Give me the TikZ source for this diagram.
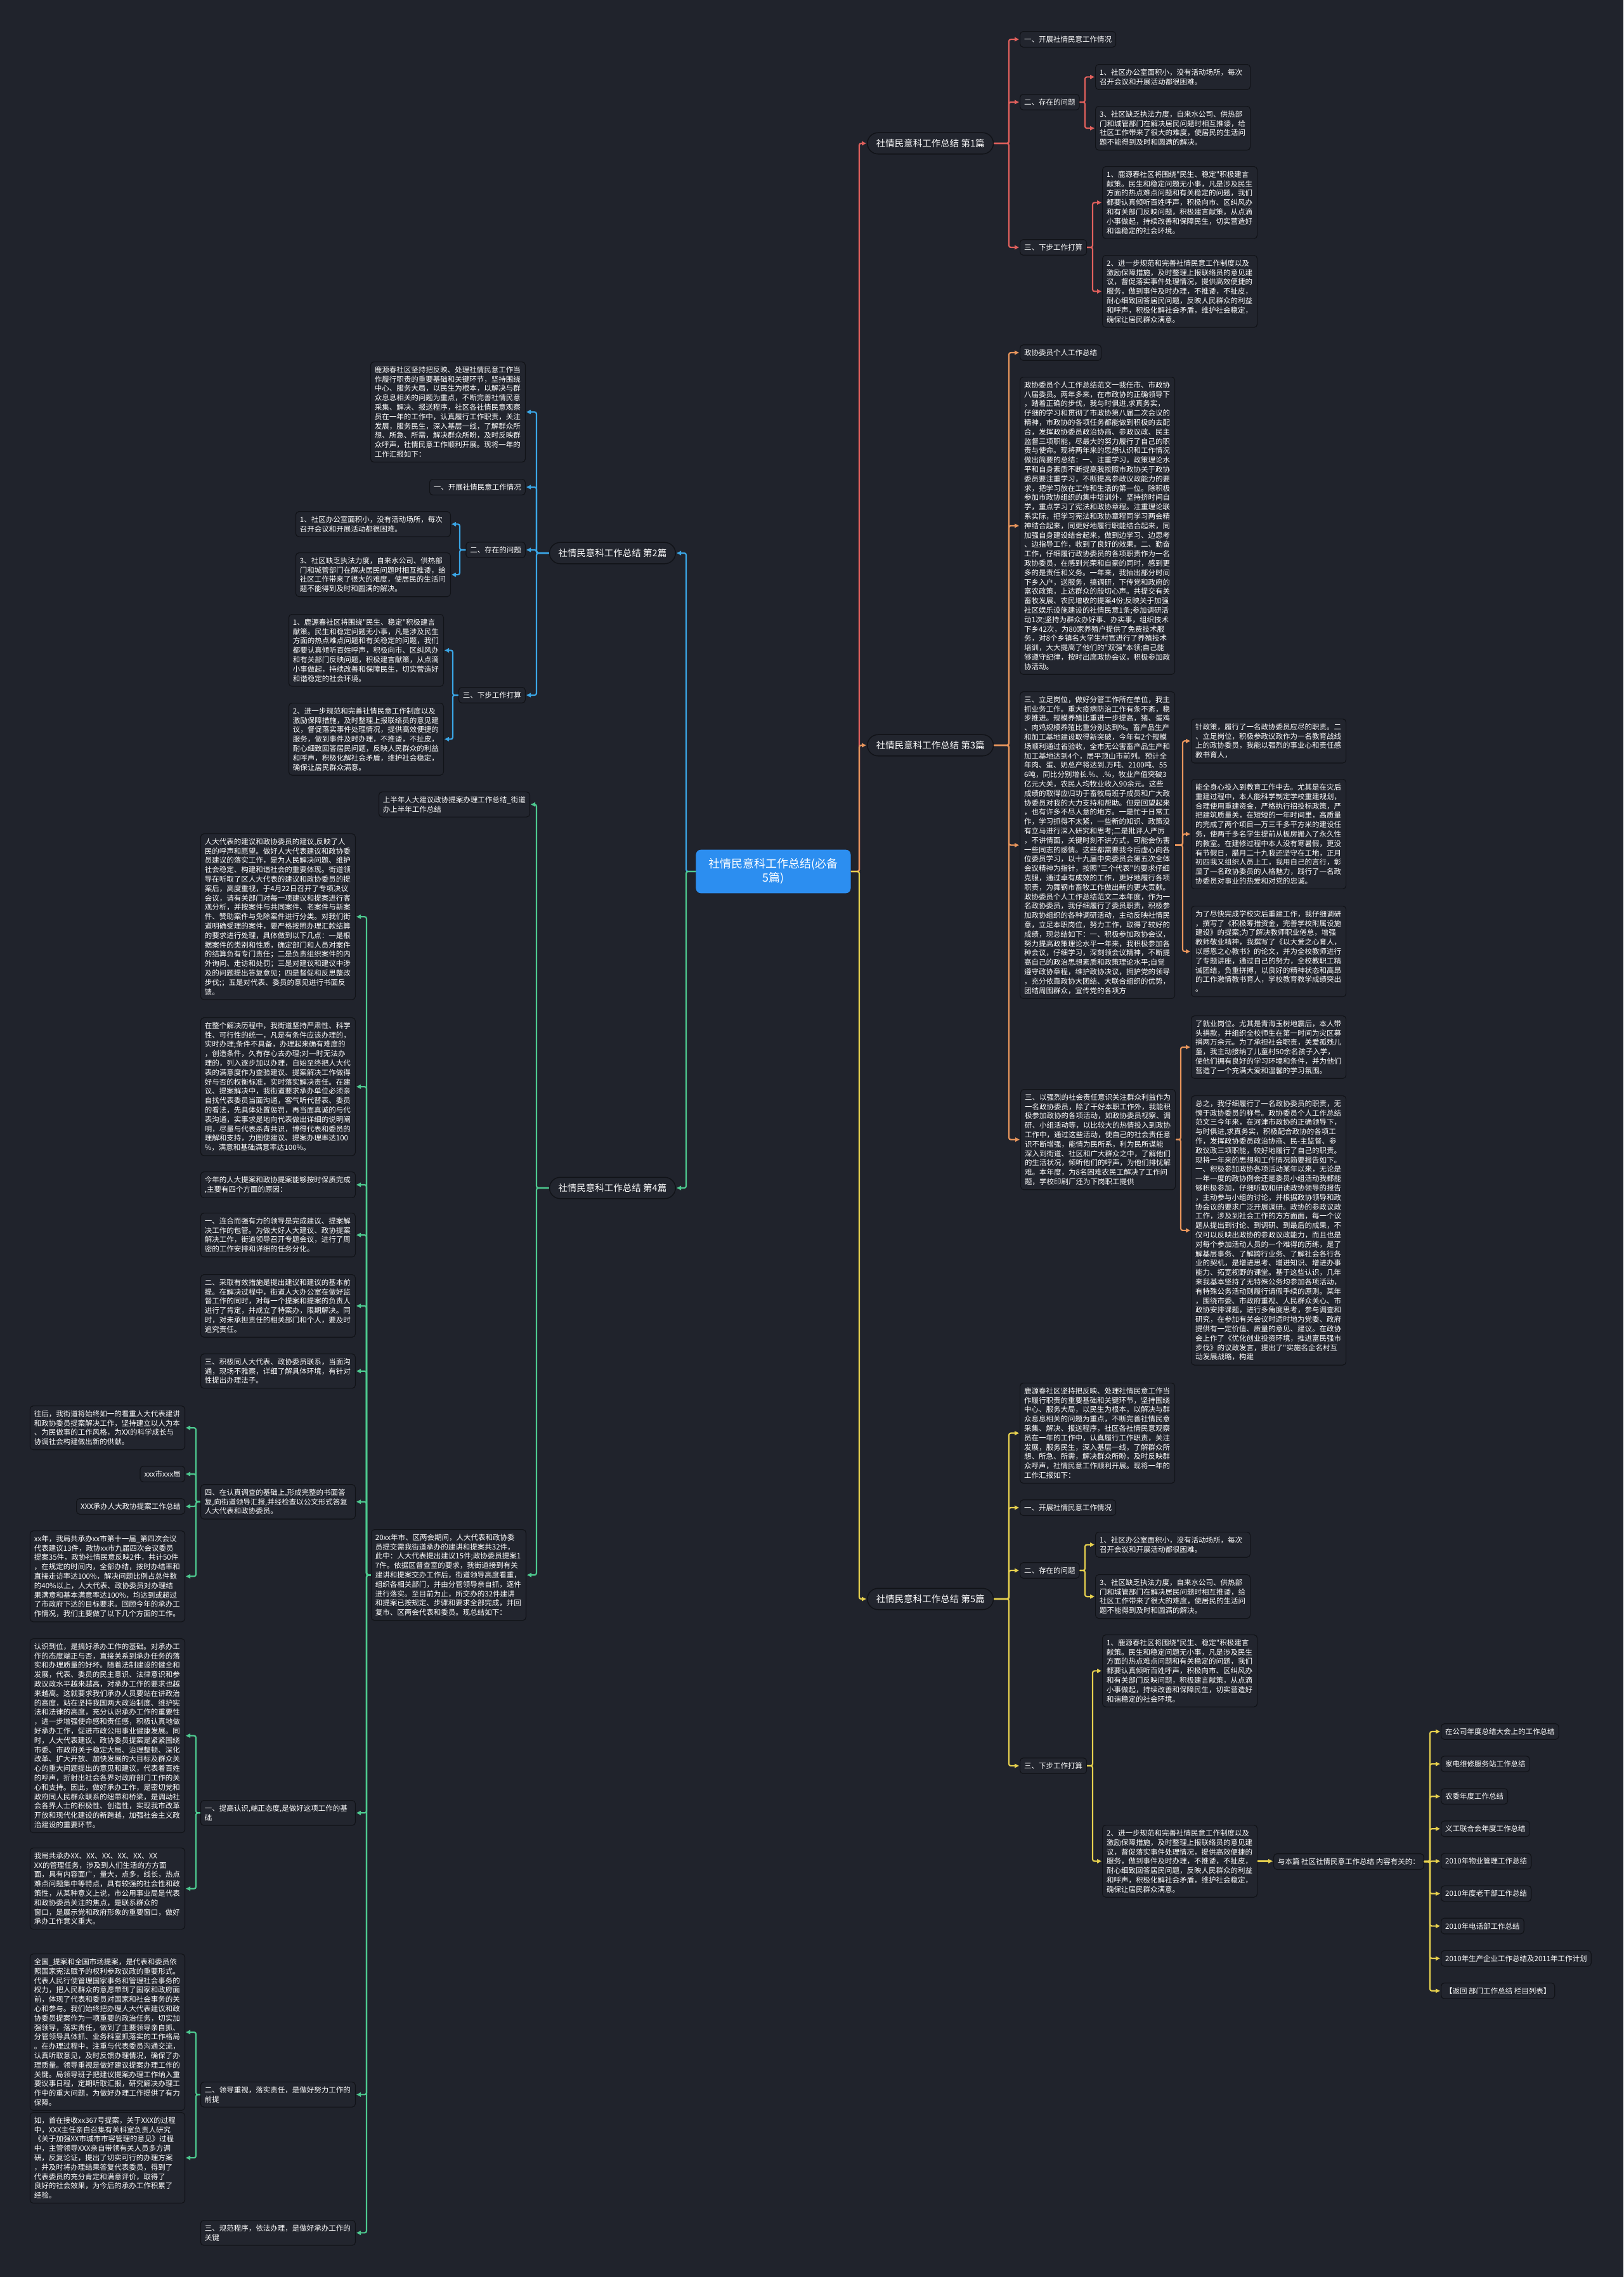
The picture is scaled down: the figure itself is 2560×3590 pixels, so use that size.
\documentclass[tikz,border=0pt]{standalone}
\usepackage{fontspec}
\usetikzlibrary{arrows.meta,calc}
\newfontfamily\cjk{Noto Sans CJK SC}
\definecolor{bg}{HTML}{20232C}
\definecolor{boxfill}{HTML}{22252E}
\definecolor{boxline}{HTML}{111318}
\definecolor{cred}{HTML}{E0605C}
\definecolor{cblue}{HTML}{3AA6E6}
\definecolor{corange}{HTML}{E8955C}
\definecolor{cgreen}{HTML}{4DC98F}
\definecolor{cyellow}{HTML}{E6D04E}
\definecolor{cctr}{HTML}{2C8EF0}
\newcommand\txtIntro{鹿源春社区坚持把反映、处理社情民意工作当\\作履行职责的重要基础和关键环节，坚持围绕\\中心、服务大局，以民生为根本，以解决与群\\众息息相关的问题为重点，不断完善社情民意\\采集、解决、报送程序，社区各社情民意观察\\员在一年的工作中，认真履行工作职责，关注\\发展，服务民生，深入基层一线，了解群众所\\想、所急、所需，解决群众所盼，及时反映群\\众呼声，社情民意工作顺利开展。现将一年的\\工作汇报如下：}
\newcommand\txtPa{1、社区办公室面积小，没有活动场所，每次\\召开会议和开展活动都很困难。}
\newcommand\txtPb{3、社区缺乏执法力度，自来水公司、供热部\\门和城管部门在解决居民问题时相互推诿，给\\社区工作带来了很大的难度，使居民的生活问\\题不能得到及时和圆满的解决。}
\newcommand\txtQa{1、鹿源春社区将围绕"民生、稳定"积极建言\\献策。民生和稳定问题无小事，凡是涉及民生\\方面的热点难点问题和有关稳定的问题，我们\\都要认真倾听百姓呼声，积极向市、区纠风办\\和有关部门反映问题，积极建言献策，从点滴\\小事做起，持续改善和保障民生，切实营造好\\和谐稳定的社会环境。}
\newcommand\txtQb{2、进一步规范和完善社情民意工作制度以及\\激励保障措施，及时整理上报联络员的意见建\\议，督促落实事件处理情况，提供高效便捷的\\服务，做到事件及时办理，不推诿，不扯皮，\\耐心细致回答居民问题，反映人民群众的利益\\和呼声，积极化解社会矛盾，维护社会稳定，\\确保让居民群众满意。}
\begin{document}
\begin{tikzpicture}[x=1pt,y=-1pt,
  box/.style={draw=boxline, fill=boxfill, line width=1.2pt, rounded corners=5pt, inner xsep=6.5pt, inner ysep=7pt, text=white, font=\cjk\fontsize{11.5}{14.8}\selectfont, align=left},
  para/.style={box, text width=231pt},
  lbl/.style={box, anchor=west},
  lblr/.style={box, anchor=east},
  branch/.style={draw=boxline, fill=boxfill, line width=1.5pt, rounded corners=17pt, inner xsep=14pt, inner ysep=10pt, text=white, font=\cjk\fontsize{14.5}{17}\selectfont},
  ctrbox/.style={fill=cctr, rounded corners=8pt, inner xsep=20pt, inner ysep=14pt, text=white, font=\cjk\fontsize{18}{22}\selectfont, align=center},
  ln/.style={line width=2.2pt, rounded corners=3pt, -{Triangle[length=7pt,width=6.5pt]}, shorten >=1pt}]
\fill[bg] (0,0) rectangle (2560,3590);
\useasboundingbox (0,0) rectangle (2560,3590);

% centre
\node[ctrbox] (ctr) at (1219.5,1374) {社情民意科工作总结(必备\\5篇)};
\coordinate (tcr) at (1355,0);
\coordinate (tcl) at (1082,0);

% ---------------- branch 1
\node[branch, anchor=west] (b1) at (1367,226) {社情民意科工作总结 第1篇};
\coordinate (t1) at (1591,0);
\node[lbl] (b1a) at (1608,62) {一、开展社情民意工作情况};
\node[lbl] (b1b) at (1608,161) {二、存在的问题};
\node[para, anchor=north west] (b1b1) at (1727,101) {\txtPa};
\node[para, anchor=north west] (b1b2) at (1727,167) {\txtPb};
\node[lbl] (b1c) at (1608,390) {三、下步工作打算};
\node[para, anchor=north west] (b1c1) at (1738,262) {\txtQa};
\node[para, anchor=north west] (b1c2) at (1738,402) {\txtQb};
\coordinate (s1b) at (1711,0);
\coordinate (s1c) at (1723,0);
\draw[ln,cred] (ctr.east) -- (ctr.east -| tcr) |- (b1.west);
\foreach \c in {b1a,b1b,b1c} \draw[ln,cred] (b1.east) -- (b1.east -| t1) |- (\c.west);
\foreach \c in {b1b1,b1b2} \draw[ln,cred] (b1b.east) -- (b1b.east -| s1b) |- (\c.west);
\foreach \c in {b1c1,b1c2} \draw[ln,cred] (b1c.east) -- (b1c.east -| s1c) |- (\c.west);

% ---------------- branch 2
\node[branch, anchor=east] (b2) at (1066,872) {社情民意科工作总结 第2篇};
\coordinate (t2) at (846,0);
\node[para, anchor=north east] (b2i) at (829,570) {\txtIntro};
\node[lblr] (b2a) at (829,768) {一、开展社情民意工作情况};
\node[lblr] (b2b) at (829,867) {二、存在的问题};
\node[para, anchor=north east] (b2b1) at (711,806) {\txtPa};
\node[para, anchor=north east] (b2b2) at (711,871) {\txtPb};
\node[lblr] (b2c) at (829,1096) {三、下步工作打算};
\node[para, anchor=north east] (b2c1) at (700,968) {\txtQa};
\node[para, anchor=north east] (b2c2) at (700,1108) {\txtQb};
\coordinate (s2b) at (725,0);
\coordinate (s2c) at (714,0);
\draw[ln,cblue] (ctr.west) -- (ctr.west -| tcl) |- (b2.east);
\foreach \c in {b2i,b2a,b2b,b2c} \draw[ln,cblue] (b2.west) -- (b2.west -| t2) |- (\c.east);
\foreach \c in {b2b1,b2b2} \draw[ln,cblue] (b2b.west) -- (b2b.west -| s2b) |- (\c.east);
\foreach \c in {b2c1,b2c2} \draw[ln,cblue] (b2c.west) -- (b2c.west -| s2c) |- (\c.east);

% ---------------- branch 3
\node[branch, anchor=west] (b3) at (1367,1175) {社情民意科工作总结 第3篇};
\coordinate (t3) at (1591,0);
\node[lbl] (b3a) at (1608,556) {政协委员个人工作总结};
\node[para, anchor=north west] (b3b) at (1608,594) {政协委员个人工作总结范文一我任市、市政协\\八届委员。两年多来，在市政协的正确领导下\\，踏着正确的步伐，我与时俱进,求真务实，\\仔细的学习和贯彻了市政协第八届二次会议的\\精神，市政协的各项任务都能做到积极的去配\\合，发挥政协委员政治协商、参政议政、民主\\监督三项职能，尽最大的努力履行了自己的职\\责与使命。现将两年来的思想认识和工作情况\\做出简要的总结：一、注重学习，政策理论水\\平和自身素质不断提高我按照市政协关于政协\\委员要注重学习，不断提高参政议政能力的要\\求，把学习放在工作和生活的第一位。除积极\\参加市政协组织的集中培训外，坚持挤时间自\\学，重点学习了宪法和政协章程。注重理论联\\系实际，把学习宪法和政协章程同学习两会精\\神结合起来，同更好地履行职能结合起来，同\\加强自身建设结合起来，做到边学习、边思考\\、边指导工作，收到了良好的效果。二、勤奋\\工作，仔细履行政协委员的各项职责作为一名\\政协委员，在感到光荣和自豪的同时，感到更\\多的是责任和义务。一年来，我抽出部分时间\\下乡入户，送服务，搞调研，下传党和政府的\\富农政策，上达群众的殷切心声。共提交有关\\畜牧发展、农民增收的提案4份;反映关于加强\\社区娱乐设施建设的社情民意1条;参加调研活\\动1次;坚持为群众办好事、办实事，组织技术\\下乡42次，为80家养殖户提供了免费技术服\\务，对8个乡镇名大学生村官进行了养殖技术\\培训，大大提高了他们的"双强"本领;自己能\\够遵守纪律，按时出席政协会议，积极参加政\\协活动。};
\node[para, anchor=north west] (b3c) at (1608,1090) {三、立足岗位，做好分管工作所在单位，我主\\抓业务工作。重大疫病防治工作有条不紊，稳\\步推进。规模养殖比重进一步提高，猪、蛋鸡\\、肉鸡规模养殖比重分别达到\%。畜产品生产\\和加工基地建设取得新突破，今年有2个规模\\场顺利通过省验收，全市无公害畜产品生产和\\加工基地达到4个，居平顶山市前列。预计全\\年肉、蛋、奶总产将达到.万吨、2100吨、55\\6吨，同比分别增长.\%、.\%，牧业产值突破3\\亿元大关，农民人均牧业收入90余元。这些\\成绩的取得应归功于畜牧局班子成员和广大政\\协委员对我的大力支持和帮助。但是回望起来\\，也有许多不尽人意的地方。一是忙于日常工\\作，学习抓得不太紧，一些新的知识、政策没\\有立马进行深入研究和思考;二是批评人严厉\\，不讲情面，关键时刻不讲方式，可能会伤害\\一些同志的感情。这些都需要我今后虚心向各\\位委员学习，以十九届中央委员会第五次全体\\会议精神为指针，按照"三个代表"的要求仔细\\克服，通过卓有成效的工作，更好地履行各项\\职责，为舞钢市畜牧工作做出新的更大贡献。\\政协委员个人工作总结范文二本年度，作为一\\名政协委员，我仔细履行了委员职责，积极参\\加政协组织的各种调研活动，主动反映社情民\\意，立足本职岗位，努力工作，取得了较好的\\成绩，现总结如下：一、积极参加政协会议，\\努力提高政策理论水平一年来，我积极参加各\\种会议，仔细学习，深刻领会议精神，不断提\\高自己的政治思想素质和政策理论水平;自觉\\遵守政协章程，维护政协决议，拥护党的领导\\，充分依靠政协大团结、大联合组织的优势，\\团结周围群众，宣传党的各项方};
\node[para, anchor=north west] (b3c1) at (1878,1133) {针政策，履行了一名政协委员应尽的职责。二\\、立足岗位，积极参政议政作为一名教育战线\\上的政协委员，我能以强烈的事业心和责任感\\教书育人，};
\node[para, anchor=north west] (b3c2) at (1878,1228) {能全身心投入到教育工作中去。尤其是在灾后\\重建过程中，本人能科学制定学校重建规划，\\合理使用重建资金，严格执行招投标政策，严\\把建筑质量关，在短短的一年时间里，高质量\\的完成了两个项目一万三千多平方米的建设任\\务，使两千多名学生提前从板房搬入了永久性\\的教室。在建修过程中本人没有寒暑假，更没\\有节假日，腊月二十九我还坚守在工地，正月\\初四我又组织人员上工，我用自己的言行，彰\\显了一名政协委员的人格魅力，践行了一名政\\协委员对事业的热爱和对党的忠诚。};
\node[para, anchor=north west] (b3c3) at (1878,1428) {为了尽快完成学校灾后重建工作，我仔细调研\\，撰写了《积极筹措资金，完善学校附属设施\\建设》的提案;为了解决教师职业倦怠，增强\\教师敬业精神，我撰写了《以大爱之心育人，\\以感恩之心教书》的论文，并为全校教师进行\\了专题讲座，通过自己的努力，全校教职工精\\诚团结，负重拼搏，以良好的精神状态和高昂\\的工作激情教书育人，学校教育教学成绩突出\\。};
\node[para, anchor=north west] (b3d) at (1609,1717) {三、以强烈的社会责任意识关注群众利益作为\\一名政协委员，除了干好本职工作外，我能积\\极参加政协的各项活动，如政协委员视察、调\\研、小组活动等，以比较大的热情投入到政协\\工作中，通过这些活动，使自己的社会责任意\\识不断增强，能情为民所系，利为民所谋能\\深入到街道、社区和广大群众之中，了解他们\\的生活状况，倾听他们的呼声，为他们排忧解\\难。本年度，为8名困难农民工解决了工作问\\题，学校印刷厂还为下岗职工提供};
\node[para, anchor=north west] (b3d1) at (1878,1601) {了就业岗位。尤其是青海玉树地震后，本人带\\头捐款，并组织全校师生在第一时间为灾区募\\捐两万余元。为了承担社会职责，关爱孤残儿\\童，我主动接纳了儿童村50余名孩子入学，\\使他们拥有良好的学习环境和条件，并为他们\\营造了一个充满大爱和温馨的学习氛围。};
\node[para, anchor=north west] (b3d2) at (1878,1727) {总之，我仔细履行了一名政协委员的职责，无\\愧于政协委员的称号。政协委员个人工作总结\\范文三今年来，在河津市政协的正确领导下，\\与时俱进,求真务实，积极配合政协的各项工\\作，发挥政协委员政治协商、民-主监督、参\\政议政三项职能，较好地履行了自己的职责。\\现将一年来的思想和工作情况简要报告如下。\\一、积极参加政协各项活动某年以来，无论是\\一年一度的政协例会还是委员小组活动我都能\\够积极参加，仔细听取和研读政协领导的报告\\，主动参与小组的讨论，并根据政协领导和政\\协会议的要求广泛开展调研。政协的参政议政\\工作，涉及到社会工作的方方面面，每一个议\\题从提出到讨论、到调研、到最后的成果，不\\仅可以反映出政协的参政议政能力，而且也是\\对每个参加活动人员的一个难得的历练，是了\\解基层事务、了解跨行业务、了解社会各行各\\业的契机，是增进思考、增进知识、增进办事\\能力、拓宽视野的课堂。基于这些认识，几年\\来我基本坚持了无特殊公务均参加各项活动，\\有特殊公务活动则履行请假手续的原则。某年\\，围绕市委、市政府重视、人民群众关心、市\\政协安排课题，进行多角度思考，参与调查和\\研究，在参加有关会议时适时地为党委、政府\\提供有一定价值、质量的意见、建议。在政协\\会上作了《优化创业投资环境，推进富民强市\\步伐》的议政发言，提出了"实施名企名村互\\动发展战略，构建};
\coordinate (s3c) at (1865,0);
\coordinate (s3d) at (1862,0);
\draw[ln,corange] (ctr.east) -- (ctr.east -| tcr) |- (b3.west);
\foreach \c in {b3a,b3b,b3c,b3d} \draw[ln,corange] (b3.east) -- (b3.east -| t3) |- (\c.west);
\foreach \c in {b3c1,b3c2,b3c3} \draw[ln,corange] (b3c.east) -- (b3c.east -| s3c) |- (\c.west);
\foreach \c in {b3d1,b3d2} \draw[ln,corange] (b3d.east) -- (b3d.east -| s3d) |- (\c.west);

% ---------------- branch 4
\node[branch, anchor=east] (b4) at (1066,1873) {社情民意科工作总结 第4篇};
\coordinate (t4) at (846,0);
\coordinate (t4b) at (578,0);
\coordinate (t4c) at (309,0);
\node[box, anchor=north east] (b4a) at (836,1248) {上半年人大建议政协提案办理工作总结\_街道\\办上半年工作总结};
\node[para, anchor=north east] (b4b) at (830,2411) {20xx年市、区两会期间，人大代表和政协委\\员提交需我街道承办的建讲和提案共32件，\\此中：人大代表提出建议15件;政协委员提案1\\7件。依据区督查室的要求，我街道接到有关\\建讲和提案交办工作后，街道领导高度看重，\\组织各相关部门，并由分管领导亲自抓，逐件\\进行落实。至目前为止，所交办的32件建讲\\和提案已按规定、步骤和要求全部完成，并回\\复市、区两会代表和委员。现总结如下：};
\node[para, anchor=north east] (c1) at (561,1314) {人大代表的建议和政协委员的建议,反映了人\\民的呼声和愿望。做好人大代表建议和政协委\\员建议的落实工作，是为人民解决问题、维护\\社会稳定、构建和谐社会的重要体现。街道领\\导在听取了区人大代表的建议和政协委员的提\\案后，高度重视，于4月22日召开了专项决议\\会议，请有关部门对每一项建议和提案进行客\\观分析，并按案件与共同案件、老案件与新案\\件、赞助案件与免除案件进行分类。对我们街\\道明确受理的案件，要严格按照办理汇款结算\\的要求进行处理，具体做到以下几点：一是根\\据案件的类别和性质，确定部门和人员对案件\\的结算负有专门责任；二是负责组织案件的内\\外询问、走访和处罚；三是对建议和建议中涉\\及的问题提出答复意见；四是督促和反思整改\\步伐;；五是对代表、委员的意见进行书面反\\馈。};
\node[para, anchor=north east] (c2) at (561,1604) {在整个解决历程中，我街道坚持严肃性、科学\\性、可行性的统一，凡是有条件应该办理的，\\实时办理;条件不具备，办理起来确有难度的\\，创造条件，久有存心去办理;对一时无法办\\理的，列入逐步加以办理，自始至终把人大代\\表的满意度作为查验建议、提案解决工作做得\\好与否的权衡标准，实时落实解决责任。在建\\议、提案解决中，我街道要求承办单位必须亲\\自找代表委员当面沟通，客气听代替表、委员\\的看法，先具体处置惩罚，再当面真诚的与代\\表沟通，实事求是地向代表做出详细的说明阐\\明，尽量与代表杀青共识，博得代表和委员的\\理解和支持，力图使建议、提案办理率达100\\\%，满意和基础满意率达100\%。};
\node[para, anchor=north east] (c3) at (561,1847) {今年的人大提案和政协提案能够按时保质完成\\,主要有四个方面的原因：};
\node[para, anchor=north east] (c4) at (561,1912) {一、连合而强有力的领导是完成建议、提案解\\决工作的包管。为做大好人大建议、政协提案\\解决工作，街道领导召开专题会议，进行了周\\密的工作安排和详细的任务分化。};
\node[para, anchor=north east] (c5) at (561,2009) {二、采取有效措施是提出建议和建议的基本前\\提。在解决过程中，街道人大办公室在做好监\\督工作的同时，对每一个提案和提案的负责人\\进行了肯定，并成立了特案办，限期解决。同\\时，对未承担责任的相关部门和个人，要及时\\追究责任。};
\node[para, anchor=north east] (c6) at (561,2134) {三、积极同人大代表、政协委员联系，当面沟\\通，现场不雅察，详细了解具体环境，有针对\\性提出办理法子。};
\node[para, anchor=north east] (c7) at (561,2340) {四、在认真调查的基础上,形成完整的书面答\\复,向街道领导汇报,并经检查以公文形式答复\\人大代表和政协委员。};
\node[para, anchor=north east] (c8) at (561,2838) {一、提高认识,端正态度,是做好这项工作的基\\础};
\node[para, anchor=north east] (c9) at (561,3282) {二、领导重视，落实责任，是做好努力工作的\\前提};
\node[para, anchor=north east] (c10) at (561,3500) {三、规范程序，依法办理，是做好承办工作的\\关键};
% far left
\node[para, anchor=north east] (d1) at (292,2216) {往后，我街道将始终如一的看重人大代表建讲\\和政协委员提案解决工作，坚持建立以人为本\\、为民做事的工作风格，为XX的科学成长与\\协调社会构建做出新的供献。};
\node[lblr] (d2) at (292,2324) {xxx市xxx局};
\node[lblr] (d3) at (292,2375) {XXX承办人大政协提案工作总结};
\node[para, anchor=north east] (d4) at (292,2413) {xx年，我局共承办xx市第十一届\_第四次会议\\代表建议13件，政协xx市九届四次会议委员\\提案35件，政协社情民意反映2件，共计50件\\，在规定的时间内，全部办结，按时办结率和\\直接走访率达100\%，解决问题比例占总件数\\的40\%以上，人大代表、政协委员对办理结\\果满意和基本满意率达100\%，均达到或超过\\了市政府下达的目标要求。回顾今年的承办工\\作情况，我们主要做了以下几个方面的工作。};
\node[para, anchor=north east] (e1) at (292,2583) {认识到位，是搞好承办工作的基础。对承办工\\作的态度端正与否，直接关系到承办任务的落\\实和办理质量的好坏。随着法制建设的健全和\\发展，代表、委员的民主意识、法律意识和参\\政议政水平越来越高，对承办工作的要求也越\\来越高。这就要求我们承办人员要站在讲政治\\的高度，站在坚持我国两大政治制度、维护宪\\法和法律的高度，充分认识承办工作的重要性\\，进一步增强使命感和责任感，积极认真地做\\好承办工作，促进市政公用事业健康发展。同\\时，人大代表建议、政协委员提案是紧紧围绕\\市委、市政府关于稳定大局、治理整顿、深化\\改革、扩大开放、加快发展的大目标及群众关\\心的重大问题提出的意见和建议，代表着百姓\\的呼声，折射出社会各界对政府部门工作的关\\心和支持。因此，做好承办工作，是密切党和\\政府同人民群众联系的纽带和桥梁，是调动社\\会各界人士的积极性、创造性，实现我市改革\\开放和现代化建设的新跨越，加强社会主义政\\治建设的重要环节。};
\node[para, anchor=north east] (e2) at (292,2913) {我局共承办XX、XX、XX、XX、XX、XX\\XX的管理任务，涉及到人们生活的方方面\\面，具有内容面广，量大，点多，线长，热点\\难点问题集中等特点，具有较强的社会性和政\\策性，从某种意义上说，市公用事业局是代表\\和政协委员关注的焦点，是联系群众的\\窗口，是展示党和政府形象的重要窗口，做好\\承办工作意义重大。};
\node[para, anchor=north east] (f1) at (292,3080) {全国\_提案和全国市场提案，是代表和委员依\\照国家宪法赋予的权利参政议政的重要形式。\\代表人民行使管理国家事务和管理社会事务的\\权力，把人民群众的意愿带到了国家和政府面\\前，体现了代表和委员对国家和社会事务的关\\心和参与。我们始终把办理人大代表建议和政\\协委员提案作为一项重要的政治任务，切实加\\强领导，落实责任，做到了主要领导亲自抓、\\分管领导具体抓、业务科室抓落实的工作格局\\。在办理过程中，注重与代表委员沟通交流，\\认真听取意见，及时反馈办理情况，确保了办\\理质量。领导重视是做好建议提案办理工作的\\关键。局领导班子把建议提案办理工作纳入重\\要议事日程，定期听取汇报，研究解决办理工\\作中的重大问题，为做好办理工作提供了有力\\保障。};
\node[para, anchor=north east] (f2) at (292,3330) {如，首在接收xx367号提案，关于XXX的过程\\中，XXX主任亲自召集有关科室负责人研究\\《关于加强XX市城市市容管理的意见》过程\\中，主管领导XXX亲自带领有关人员多方调\\研，反复论证，提出了切实可行的办理方案\\，并及时将办理结果答复代表委员，得到了\\代表委员的充分肯定和满意评价，取得了\\良好的社会效果，为今后的承办工作积累了\\经验。};
\draw[ln,cgreen] (ctr.west) -- (ctr.west -| tcl) |- (b4.east);
\foreach \c in {b4a,b4b} \draw[ln,cgreen] (b4.west) -- (b4.west -| t4) |- (\c.east);
\foreach \c in {c1,c2,c3,c4,c5,c6,c7,c8,c9,c10} \draw[ln,cgreen] (b4b.west) -- (b4b.west -| t4b) |- (\c.east);
\foreach \c in {d1,d2,d3,d4} \draw[ln,cgreen] (c7.west) -- (c7.west -| t4c) |- (\c.east);
\foreach \c in {e1,e2} \draw[ln,cgreen] (c8.west) -- (c8.west -| t4c) |- (\c.east);
\foreach \c in {f1,f2} \draw[ln,cgreen] (c9.west) -- (c9.west -| t4c) |- (\c.east);

% ---------------- branch 5
\node[branch, anchor=west] (b5) at (1367,2521) {社情民意科工作总结 第5篇};
\coordinate (t5) at (1591,0);
\node[para, anchor=north west] (b5i) at (1608,2180) {\txtIntro};
\node[lbl] (b5a) at (1608,2377) {一、开展社情民意工作情况};
\node[lbl] (b5b) at (1608,2476) {二、存在的问题};
\node[para, anchor=north west] (b5b1) at (1727,2415) {\txtPa};
\node[para, anchor=north west] (b5b2) at (1727,2482) {\txtPb};
\node[lbl] (b5c) at (1608,2784) {三、下步工作打算};
\node[para, anchor=north west] (b5c1) at (1738,2577) {\txtQa};
\node[para, anchor=north west] (b5c2) at (1738,2877) {\txtQb};
\node[lbl] (b5d) at (2008,2935) {与本篇 社区社情民意工作总结 内容有关的：};
\coordinate (s5b) at (1711,0);
\coordinate (s5c) at (1723,0);
\coordinate (s5d) at (2255,0);
\draw[ln,cyellow] (ctr.east) -- (ctr.east -| tcr) |- (b5.west);
\foreach \c in {b5i,b5a,b5b,b5c} \draw[ln,cyellow] (b5.east) -- (b5.east -| t5) |- (\c.west);
\foreach \c in {b5b1,b5b2} \draw[ln,cyellow] (b5b.east) -- (b5b.east -| s5b) |- (\c.west);
\foreach \c in {b5c1,b5c2} \draw[ln,cyellow] (b5c.east) -- (b5c.east -| s5c) |- (\c.west);
\draw[ln,cyellow] (b5c2.east) -- (b5c2.east -| b5d.west);
\foreach \t [count=\i from 0] in {在公司年度总结大会上的工作总结,家电维修服务站工作总结,农委年度工作总结,义工联合会年度工作总结,2010年物业管理工作总结,2010年度老干部工作总结,2010年电话部工作总结,2010年生产企业工作总结及2011年工作计划,【返回 部门工作总结 栏目列表】}{
  \node[lbl] (g\i) at (2272,2730+51.1*\i) {\t};
  \draw[ln,cyellow] (b5d.east) -- (b5d.east -| s5d) |- (g\i.west);
}
\end{tikzpicture}
\end{document}
